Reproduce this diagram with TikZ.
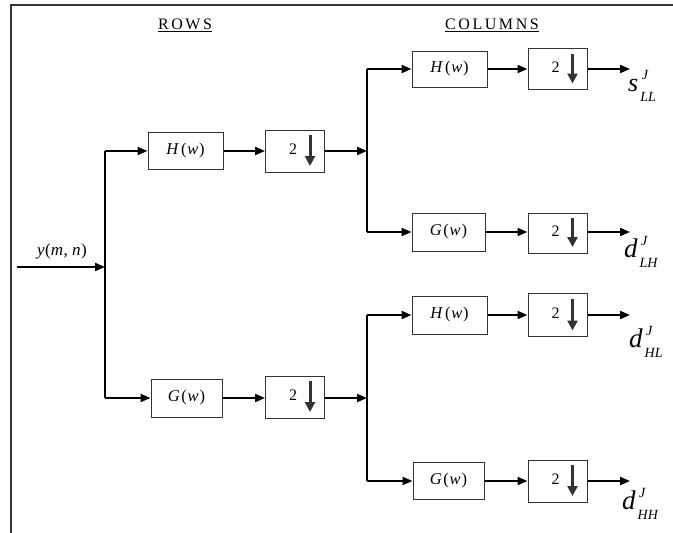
\documentclass[tikz,border=0pt]{standalone}
\usepackage{fontspec}
\setmainfont{Liberation Serif}
\newfontfamily\spacedfont[LetterSpace=16]{Liberation Serif}
\usetikzlibrary{arrows.meta,calc}
\newcommand{\outlbl}[3]{{\fontsize{#3}{#3}\selectfont\itshape #1}\rlap{\raisebox{12pt}{\fontsize{14}{14}\selectfont\itshape\kern3.5pt J}}\raisebox{-10.5pt}{\fontsize{14}{14}\selectfont\itshape\kern2pt #2}}
\newcommand{\Hw}{\textit{H}\kern2pt(\kern0.8pt\textit{w}\kern0.8pt)}
\newcommand{\Gw}{\textit{G}\kern1.5pt(\kern0.8pt\textit{w}\kern0.8pt)}
\tikzset{
  boxline/.style={draw=black!80, line width=1pt, inner sep=0pt},
  filt/.style={boxline, minimum width=75pt, minimum height=37pt, font=\fontsize{16.5}{16.5}\selectfont},
  dsbox/.style={boxline, minimum width=59pt, minimum height=42pt, font=\fontsize{16}{16}\selectfont,
    path picture={\draw[line width=3pt,-{Triangle[length=10pt,width=10pt]}]
      ([xshift=15pt,yshift=-5pt]path picture bounding box.north) --
      ([xshift=15pt,yshift=6pt]path picture bounding box.south);}},
  conn/.style={line width=2pt, draw=black},
  arr/.style={conn, -{Triangle[length=10pt,width=8pt]}},
  outlab/.style={anchor=base west, inner sep=0pt},
  title/.style={font=\spacedfont\fontsize{16}{18}\selectfont}
}
\newcommand{\dstext}{\raisebox{4pt}{2}\kern4pt}
\begin{document}
\begin{tikzpicture}[x=1pt,y=-1pt]
\useasboundingbox (0,0) rectangle (673,533);
\draw[line width=2pt, black!80] (11,533) -- (11,5) -- (673,5);
% titles
\node[title] (rows) at (185,25) {\underline{ROWS}};
\node[title] (cols) at (492,25) {\underline{COLUMNS}};
% input
\coordinate (in) at (17,267);
\coordinate (b0) at (105,267);
\coordinate (t0) at (105,151);
\coordinate (u0) at (105,398);
\node (ylab) at (62,251) {\fontsize{17}{17}\selectfont\textit{y}\kern0.5pt(\textit{m}\kern0.5pt, \textit{n}\kern0.5pt)};
% row stage
\node[filt] (H1) at (185.5,151) {\Hw};
\node[dsbox] (D1) at (295,151) {\dstext};
\node[filt, minimum width=71pt, minimum height=38pt] (G1) at (186.5,398) {\Gw};
\node[dsbox] (D2) at (295,397) {\dstext};
\coordinate (b1) at (367,151);
\coordinate (b2) at (367,398);
\coordinate (t1) at (367,69);
\coordinate (u1) at (367,232);
\coordinate (t2) at (367,315);
\coordinate (u2) at (367,481);
% column stage
\node[filt, minimum height=36pt] (H2) at (449.5,69) {\Hw};
\node[dsbox, minimum height=41pt] (D3) at (557.5,69) {\dstext};
\node[filt, minimum width=73pt, minimum height=38pt] (G2) at (448.5,232) {\Gw};
\node[dsbox, minimum height=40pt] (D4) at (557.5,233) {\dstext};
\node[filt, minimum height=38pt] (H3) at (449.5,315) {\Hw};
\node[dsbox, minimum height=43pt] (D5) at (557.5,315) {\dstext};
\node[filt, minimum width=71pt] (G3) at (448.5,481) {\Gw};
\node[dsbox] (D6) at (557.5,481) {\dstext};
\coordinate (o1) at (630,69);
\coordinate (o2) at (630,232);
\coordinate (o3) at (630,315);
\coordinate (o4) at (630,481);
% connectors
\draw[arr] (in) -- (b0);
\draw[conn, line width=1.6pt] (t0) -- (u0);
\draw[arr] (t0) -- (H1.west);
\draw[arr] (u0) -- (G1.west);
\draw[arr] (H1.east) -- (D1.west);
\draw[arr] (G1.east) -- (G1.east -| D2.west);
\draw[arr] (D1.east) -- (b1);
\draw[arr] (D2.east |- b2) -- (b2);
\draw[conn, line width=1.6pt] (t1) -- (u1);
\draw[conn, line width=1.6pt] (t2) -- (u2);
\draw[arr] (t1) -- (H2.west);
\draw[arr] (u1) -- (G2.west);
\draw[arr] (t2) -- (H3.west);
\draw[arr] (u2) -- (G3.west);
\draw[arr] (H2.east) -- (H2.east -| D3.west);
\draw[arr] (G2.east) -- (G2.east -| D4.west);
\draw[arr] (H3.east) -- (H3.east -| D5.west);
\draw[arr] (G3.east) -- (G3.east -| D6.west);
\draw[arr] (D3.east |- o1) -- (o1);
\draw[arr] (D4.east |- o2) -- (o2);
\draw[arr] (D5.east |- o3) -- (o3);
\draw[arr] (D6.east |- o4) -- (o4);
% output labels
\node[outlab] (sLL) at ($(o1)+(-2,22)$) {\outlbl{s}{LL}{26}};
\node[outlab] (dLH) at ($(o2)+(-6,25)$) {\outlbl{d}{LH}{27}};
\node[outlab] (dHL) at ($(o3)+(-1,32)$) {\outlbl{d}{HL}{27}};
\node[outlab] (dHH) at ($(o4)+(-8,28)$) {\outlbl{d}{HH}{27}};
\end{tikzpicture}
\end{document}
